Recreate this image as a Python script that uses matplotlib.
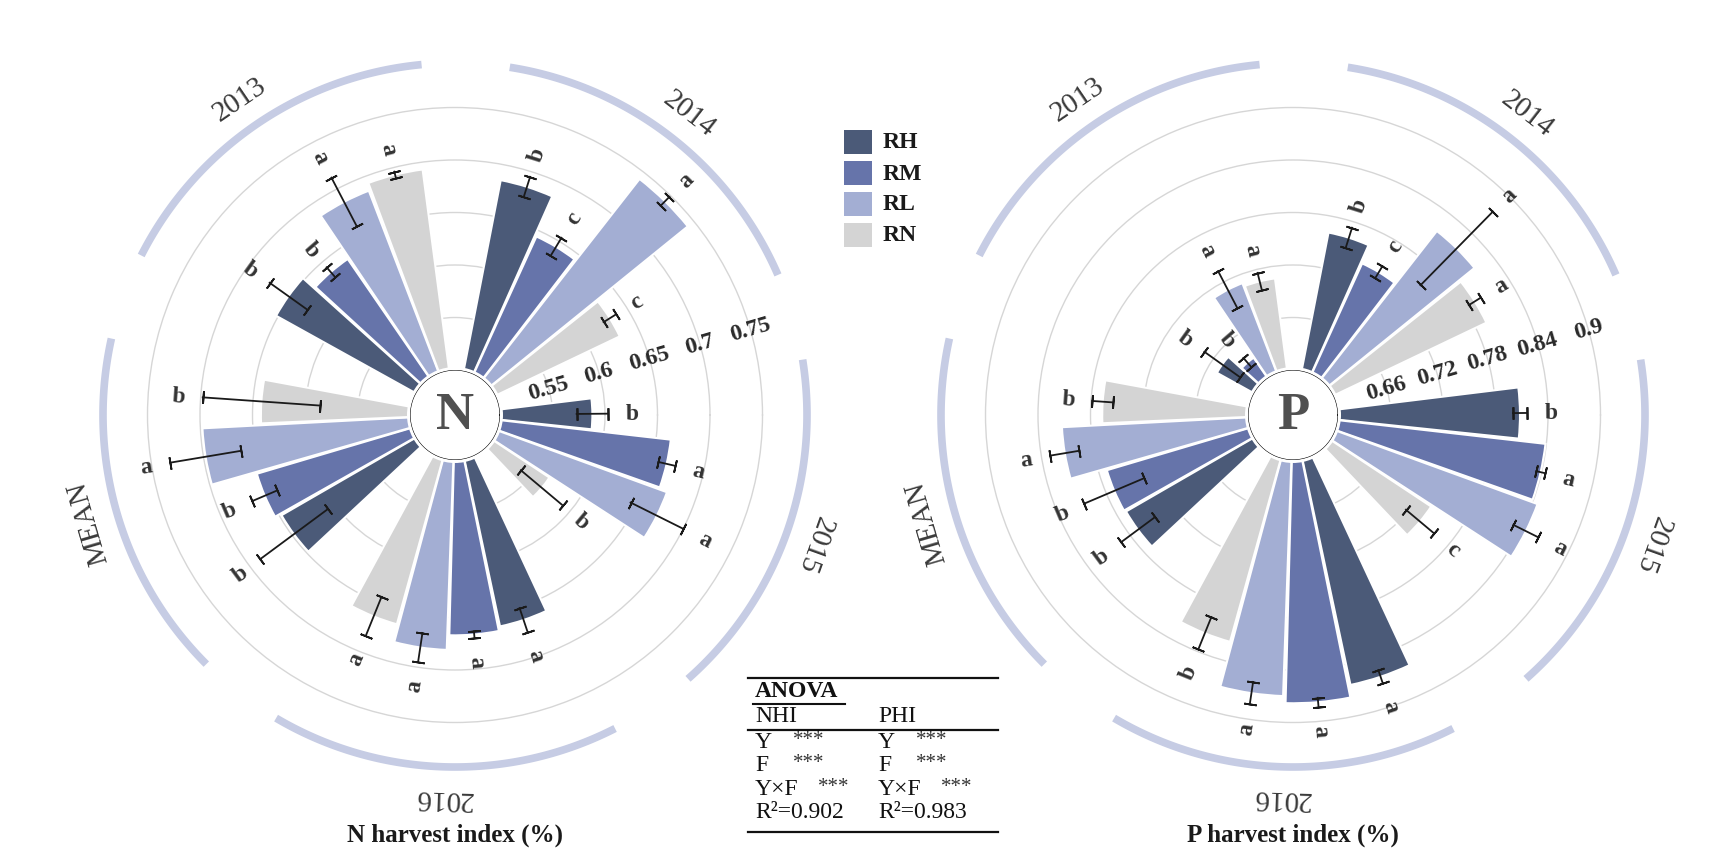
import numpy as np
import matplotlib
matplotlib.use("Agg")
import matplotlib.pyplot as plt
from matplotlib.patches import Rectangle, Circle
from matplotlib.lines import Line2D

plt.rcParams['font.family'] = ['Liberation Serif', 'DejaVu Serif']

# ---------------- data ----------------
groups = ['2013', '2014', '2015', '2016', 'MEAN']
treatments = ['RH', 'RM', 'RL', 'RN']
colors = ['#4b5a78', '#6674aa', '#a3aed3', '#d4d4d4']

n_mean = [[0.652, 0.6375, 0.686, 0.693],
          [0.685, 0.644, 0.7425, 0.631],
          [0.588, 0.664, 0.672, 0.565],
          [0.663, 0.667, 0.681, 0.664],
          [0.648, 0.654, 0.698, 0.642]]
n_err = [[0.022, 0.006, 0.026, 0.003],
         [0.010, 0.010, 0.006, 0.007],
         [0.015, 0.008, 0.028, 0.026],
         [0.012, 0.003, 0.014, 0.020],
         [0.040, 0.013, 0.034, 0.056]]
n_letters = [['b', 'b', 'a', 'a'],
             ['b', 'c', 'a', 'c'],
             ['b', 'a', 'a', 'b'],
             ['a', 'a', 'a', 'a'],
             ['b', 'b', 'a', 'b']]
n_ticks = [0.55, 0.6, 0.65, 0.7, 0.75]
n_tick_labels = ['0.55', '0.6', '0.65', '0.7', '0.75']

p_mean = [[0.648, 0.628, 0.710, 0.706],
          [0.761, 0.739, 0.8155, 0.7935],
          [0.808, 0.839, 0.846, 0.738],
          [0.864, 0.878, 0.870, 0.8176],
          [0.769, 0.7705, 0.813, 0.7666]]
p_err = [[0.025, 0.007, 0.024, 0.010],
         [0.012, 0.008, 0.059, 0.008],
         [0.008, 0.005, 0.016, 0.021],
         [0.008, 0.005, 0.013, 0.020],
         [0.024, 0.037, 0.017, 0.012]]
p_letters = [['b', 'b', 'a', 'a'],
             ['b', 'c', 'a', 'a'],
             ['b', 'a', 'a', 'c'],
             ['a', 'a', 'a', 'b'],
             ['b', 'b', 'a', 'b']]
p_ticks = [0.66, 0.72, 0.78, 0.84, 0.90]
p_tick_labels = ['0.66', '0.72', '0.78', '0.84', '0.9']

anova_nhi = [('Y', '***'), ('F', '***'), ('Y×F', '***')]
anova_phi = [('Y', '***'), ('F', '***'), ('Y×F', '***')]
r2_nhi = 'R²=0.902'
r2_phi = 'R²=0.983'

# ---------------- layout ----------------
W, H = 1736, 862
fig = plt.figure(figsize=(W / 100, H / 100), dpi=100)

HOLE_PX = 45.0      # radius where the base value sits
RING_PX = 52.5      # pixels between grid rings
R_AX = 391.5        # axes radius in px
ARC_PX = 352.0
YEAR_PX = 382.0
LET_PX = 24.0
BAR_STEP = 13.5     # degrees between bars inside a group
GROUP_STEP = 72.0   # degrees between groups
START = 144.5       # angle of first bar (2013 RH)
ARC_HALF = 28.8
ARC_COLOR = '#c6cce4'


def fx(x):
    return x / W


def fy(y):
    return 1 - y / H


def draw_chart(cx, cy, means, errs, letters, ticks, tick_labels, base, step,
               center_letter, title):
    ppu = RING_PX / step
    rorig = base - HOLE_PX / ppu
    rmax = rorig + R_AX / ppu
    ax = fig.add_axes([fx(cx - R_AX), (H - cy - R_AX) / H, 2 * R_AX / W, 2 * R_AX / H],
                      projection='polar')
    ax.set_ylim(base, rmax)
    ax.set_rorigin(rorig)
    ax.set_theta_zero_location('E')
    ax.set_xticks([])
    ax.set_yticks(ticks)
    ax.set_yticklabels([])
    ax.yaxis.grid(True, color='#d6d6d6', lw=1.0)
    ax.xaxis.grid(False)
    ax.set_axisbelow(True)
    for s in ax.spines.values():
        s.set_visible(False)
    ax.patch.set_alpha(0)

    for gi, g in enumerate(groups):
        g0 = START - gi * GROUP_STEP
        for ti in range(4):
            th_deg = g0 - ti * BAR_STEP
            th = np.deg2rad(th_deg)
            v = means[gi][ti]
            e = errs[gi][ti]
            ax.bar(th, v - base, bottom=base, width=np.deg2rad(BAR_STEP * 0.96),
                   color=colors[ti], edgecolor='white', linewidth=1.5, zorder=2)
            ax.plot([th, th], [v - e, v + e], color='#1a1a1a', lw=1.3, zorder=3)
            ax.plot([th, th], [v - e, v + e], ls='none', color='#1a1a1a',
                    marker=(2, 2, th_deg), ms=9, mew=1.3, zorder=3)
            rot = th_deg if -90 <= th_deg <= 90 else th_deg - 180
            rot = (rot + 180) % 360 - 180
            ax.text(th, v + e + LET_PX / ppu, letters[gi][ti], rotation=rot,
                    rotation_mode='anchor', ha='center', va='center',
                    fontsize=17, fontweight='bold', color='#333333', zorder=4)
        # group arc + label
        c = g0 - 1.5 * BAR_STEP
        tt = np.deg2rad(np.linspace(c - ARC_HALF, c + ARC_HALF, 120))
        r_arc = rorig + ARC_PX / ppu
        ax.plot(tt, np.full_like(tt, r_arc), color=ARC_COLOR, lw=5.5,
                solid_capstyle='butt', clip_on=False, zorder=1)
        ax.text(np.deg2rad(c), rorig + YEAR_PX / ppu, g, rotation=c - 90,
                rotation_mode='anchor', ha='center', va='center', fontsize=21,
                color='#3a3a3a', clip_on=False)

    # tick labels in the gap between 2014 and 2015
    gap_deg = START - GROUP_STEP - 3 * BAR_STEP
    th_deg_lab = (gap_deg + START - 2 * GROUP_STEP) / 2
    th_lab = np.deg2rad(th_deg_lab)
    for t, lab in zip(ticks, tick_labels):
        ax.text(th_lab, t, lab, rotation=th_deg_lab, rotation_mode='anchor',
                ha='center', va='center', fontsize=17, fontweight='bold',
                color='#2a2a2a', zorder=4)

    # centre disc
    ax.add_patch(Circle((0.5, 0.5), 48 / (2 * R_AX), transform=ax.transAxes,
                        facecolor='white', edgecolor='none', zorder=5))
    ax.add_patch(Circle((0.5, 0.5), 41 / (2 * R_AX), transform=ax.transAxes,
                        facecolor='white', edgecolor='#4a4a4a', lw=1.8, zorder=6))
    ax.text(0.5, 0.5, center_letter, transform=ax.transAxes, ha='center',
            va='center', fontsize=38, fontweight='bold', color='#505050', zorder=7)

    fig.text(fx(cx), fy(835), title, ha='center', va='center', fontsize=18,
             fontweight='bold', color='#1a1a1a')


draw_chart(455, 416, n_mean, n_err, n_letters, n_ticks, n_tick_labels,
           0.5, 0.05, 'N', 'N harvest index (%)')
draw_chart(1293, 416, p_mean, p_err, p_letters, p_ticks, p_tick_labels,
           0.6, 0.06, 'P', 'P harvest index (%)')

# ---------------- legend ----------------
leg_y = [143, 174, 205, 236]
for ti, t in enumerate(treatments):
    fig.add_artist(Rectangle((fx(844), fy(leg_y[ti] + 12)), 28 / W, 24 / H,
                             transform=fig.transFigure, facecolor=colors[ti],
                             edgecolor='none'))
    fig.text(fx(883), fy(leg_y[ti]), t, ha='left', va='center', fontsize=17,
             fontweight='bold', color='#1a1a1a')

# ---------------- ANOVA table ----------------
def hline(x0, x1, y, lw):
    fig.add_artist(Line2D([fx(x0), fx(x1)], [fy(y), fy(y)],
                          transform=fig.transFigure, color='#111111', lw=lw))

hline(748, 998, 679, 1.6)
hline(753, 845, 705, 1.5)
hline(748, 998, 731, 1.6)
hline(748, 998, 833, 1.6)
fig.text(fx(755), fy(692), 'ANOVA', ha='left', va='center', fontsize=17,
         fontweight='bold', color='#111111')
col_x = [755, 878]
for cx_, name, rows, r2 in [(col_x[0], 'NHI', anova_nhi, r2_nhi),
                            (col_x[1], 'PHI', anova_phi, r2_phi)]:
    fig.text(fx(cx_), fy(717), name, ha='left', va='center', fontsize=17,
             color='#111111')
    row_y = [743, 766, 790]
    for (lab, sig), ry in zip(rows, row_y):
        fig.text(fx(cx_), fy(ry), lab, ha='left', va='center', fontsize=17,
                 color='#111111')
        off = 38 if len(lab) == 1 else 63
        fig.text(fx(cx_ + off), fy(ry - 2), sig, ha='left', va='center',
                 fontsize=15, color='#333333')
    fig.text(fx(cx_), fy(813), r2, ha='left', va='center', fontsize=17,
             color='#111111')

fig.savefig('out.png', dpi=100, facecolor='white')
